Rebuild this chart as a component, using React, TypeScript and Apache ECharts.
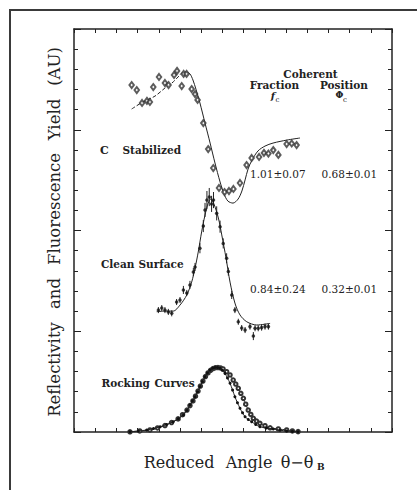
import React, { useEffect, useRef } from "react";
import * as echarts from "echarts";

// Axis extent in tick units (ticks are unlabelled in the original)
const X_MAX = 15;
const Y_MAX = 20;

// C Stabilized: fitted curve (left rising part drawn dashed) and data (open diamonds)
const stabilizedFitLeft: [number, number][] = [
  [2.72, 16.03], [3.25, 16.38], [3.82, 16.67], [4.29, 17.07], [4.62, 17.32],
  [4.91, 17.62], [5.09, 17.82], [5.28, 17.89],
];
const stabilizedFitRight: [number, number][] = [
  [5.28, 17.89], [5.47, 17.77], [5.61, 17.47], [5.75, 17.02], [5.94, 16.33],
  [6.18, 15.33], [6.42, 14.34], [6.65, 13.35], [6.89, 12.41], [7.08, 11.81],
  [7.26, 11.46], [7.5, 11.36], [7.74, 11.56], [7.92, 11.96], [8.07, 12.51],
  [8.21, 13.05], [8.4, 13.5], [8.68, 13.95], [9.01, 14.19], [9.39, 14.34],
  [10.05, 14.49], [10.66, 14.59],
];
const stabilizedData: [number, number][] = [
  [2.72, 17.22], [2.96, 16.97], [3.21, 16.33], [3.44, 16.43], [3.58, 16.38],
  [3.74, 17.12], [4.01, 17.62], [4.29, 17.32], [4.46, 17.22], [4.72, 17.72],
  [4.86, 17.92], [5.08, 17.17], [5.17, 17.77], [5.31, 17.77], [5.55, 17.02],
  [5.71, 16.77], [5.83, 16.48], [6.1, 15.33], [6.33, 14.04], [6.57, 13.1],
  [6.84, 12.11], [7.1, 11.91], [7.31, 11.96], [7.52, 12.06], [7.83, 12.36],
  [8.14, 13.25], [8.38, 13.6], [8.73, 13.65], [8.96, 13.85], [9.17, 13.82],
  [9.4, 13.99], [9.64, 13.75], [10.03, 14.29], [10.27, 14.32], [10.5, 14.24],
];

// Clean Surface: fitted curve and data with error bars [x, y, err]
const cleanFit: [number, number][] = [
  [3.9, 5.97], [4.29, 6.0], [4.68, 6.0], [5.0, 6.3], [5.32, 6.8], [5.55, 7.44],
  [5.71, 8.14], [5.86, 8.93], [6.02, 9.93], [6.18, 10.77], [6.33, 11.36],
  [6.45, 11.56], [6.6, 11.32], [6.81, 10.62], [6.97, 9.78], [7.17, 8.64],
  [7.36, 7.44], [7.59, 6.4], [7.83, 5.81], [8.15, 5.47], [8.62, 5.31], [9.25, 5.39],
];
const cleanData: [number, number, number][] = [
  [3.98, 6.05, 0.15], [4.14, 6.15, 0.15], [4.29, 6.05, 0.15], [4.45, 5.96, 0.15],
  [4.61, 5.89, 0.15], [4.84, 6.45, 0.15], [5.0, 6.55, 0.15], [5.16, 7.05, 0.2],
  [5.32, 6.9, 0.15], [5.47, 7.3, 0.2], [5.63, 7.94, 0.2], [5.71, 8.19, 0.2],
  [5.94, 9.12, 0.25], [6.1, 10.22, 0.3], [6.18, 11.02, 0.35], [6.27, 11.51, 0.45],
  [6.38, 11.66, 0.45], [6.49, 11.32, 0.4], [6.58, 11.51, 0.4], [6.73, 10.85, 0.35],
  [6.89, 10.19, 0.3], [7.04, 9.36, 0.25], [7.2, 8.62, 0.25], [7.28, 7.96, 0.2],
  [7.44, 6.8, 0.2], [7.59, 6.05, 0.15], [7.75, 5.47, 0.15], [7.91, 5.16, 0.15],
  [8.07, 5.06, 0.15], [8.3, 5.23, 0.15], [8.46, 4.76, 0.2], [8.54, 5.15, 0.15],
  [8.69, 5.15, 0.15], [8.85, 5.18, 0.15], [9.01, 5.23, 0.15], [9.17, 5.23, 0.15],
];

// Rocking curves: filled dots (narrower) and open circles (wider on the right)
const rockingFilled: [number, number][] = [
  [2.64, 0.01], [3.04, 0.05], [3.43, 0.1], [3.75, 0.17], [4.06, 0.26], [4.37, 0.37],
  [4.68, 0.51], [4.92, 0.66], [5.16, 0.84], [5.32, 1.07], [5.47, 1.34], [5.59, 1.54],
  [5.71, 1.75], [5.83, 2.0], [5.94, 2.25], [6.06, 2.5], [6.18, 2.74], [6.3, 2.93],
  [6.42, 3.08], [6.54, 3.16], [6.65, 3.2], [6.77, 3.2], [6.89, 3.16], [7.0, 3.06],
  [7.12, 2.91], [7.24, 2.68], [7.36, 2.42], [7.48, 2.08], [7.59, 1.75], [7.71, 1.45],
  [7.83, 1.18], [7.95, 0.95], [8.07, 0.76], [8.22, 0.62], [8.38, 0.51], [8.57, 0.37],
  [8.77, 0.26], [9.08, 0.2], [9.4, 0.15], [9.72, 0.09], [10.03, 0.05], [10.3, 0.03],
  [10.57, 0.01],
];
const rockingOpen: [number, number][] = [
  [2.64, 0.01], [3.1, 0.05], [3.58, 0.1], [3.94, 0.2], [4.29, 0.32], [4.6, 0.47],
  [4.91, 0.65], [5.12, 0.86], [5.33, 1.09], [5.47, 1.31], [5.61, 1.54], [5.73, 1.78],
  [5.85, 2.03], [5.96, 2.28], [6.08, 2.53], [6.2, 2.75], [6.32, 2.93], [6.44, 3.06],
  [6.56, 3.15], [6.68, 3.19], [6.79, 3.2], [6.91, 3.18], [7.03, 3.13], [7.2, 2.99],
  [7.36, 2.83], [7.51, 2.58], [7.63, 2.38], [7.75, 2.17], [7.87, 1.92], [7.99, 1.67],
  [8.1, 1.38], [8.22, 1.09], [8.34, 0.87], [8.46, 0.68], [8.61, 0.54], [8.77, 0.43],
  [9.01, 0.31], [9.25, 0.21], [9.64, 0.15], [10.03, 0.1], [10.3, 0.05], [10.57, 0.02],
];

// Text
const yTitleWords = ["Reflectivity", "and", "Fluorescence", "Yield", "(AU)"];
const xTitleWords = ["Reduced", "Angle", "\u03b8\u2212\u03b8"];
const xTitleSub = "B";
const curveLabels = ["C", "Stabilized", "Clean", "Surface", "Rocking", "Curves"];
const headerLabels = ["Coherent", "Fraction", "Position"];
const headerSymbols = ["f", "\u03a6"];
const fractionValues = ["1.01\u00b10.07", "0.84\u00b10.24"];
const positionValues = ["0.68\u00b10.01", "0.32\u00b10.01"];

const INK = "#222";
const SERIF = '"DejaVu Serif", serif';

function txt(text: string, x: number, y: number, size: number, opts: any = {}) {
  return {
    type: "text",
    x,
    y,
    rotation: opts.rotation || 0,
    z: 10,
    style: {
      text,
      fill: INK,
      fontSize: size,
      fontFamily: SERIF,
      fontWeight: opts.bold ? "bold" : "normal",
      fontStyle: opts.italic ? "italic" : "normal",
      align: opts.align || "left",
      textAlign: opts.align || "left",
      verticalAlign: "middle",
      textVerticalAlign: "middle",
    },
  };
}

export default function App() {
  const ref = useRef<HTMLDivElement>(null);

  useEffect(() => {
    if (!ref.current) return;
    const chart = echarts.init(ref.current, undefined, { renderer: "svg" });

    const axisLine = { show: true, onZero: false, lineStyle: { color: INK, width: 1.5 } };
    const xAxisBase = {
      type: "value",
      min: 0,
      max: X_MAX,
      interval: 1,
      axisLine,
      axisTick: { show: true, inside: true, length: 4, lineStyle: { color: INK, width: 1 } },
      axisLabel: { show: false },
      splitLine: { show: false },
    };
    const yAxisBase = {
      type: "value",
      min: 0,
      max: Y_MAX,
      interval: 5,
      axisLine,
      axisTick: { show: true, inside: true, length: 7, lineStyle: { color: INK, width: 1 } },
      minorTick: { show: true, splitNumber: 5, length: 4, lineStyle: { color: INK, width: 1 } },
      axisLabel: { show: false },
      splitLine: { show: false },
      minorSplitLine: { show: false },
    };

    const graphics: any[] = [
      {
        type: "rect",
        shape: { x: 10, y: 10, width: 460, height: 530 },
        style: { fill: "none", stroke: "#3a3a3a", lineWidth: 2 },
        z: 1,
      },
    ];
    // y title words (rotated, bottom to top)
    const yCenters = [369.5, 293.5, 209, 119.5, 66.5];
    yTitleWords.forEach((w, i) =>
      graphics.push(txt(w, 54, yCenters[i], 16.5, { align: "center", rotation: Math.PI / 2 }))
    );
    // x title
    const xCenters = [179, 249, 297];
    xTitleWords.forEach((w, i) => graphics.push(txt(w, xCenters[i], 462, 16, { align: "center" })));
    graphics.push(txt(xTitleSub, 317, 467, 9, { bold: true }));
    // curve labels
    graphics.push(txt(curveLabels[0], 100, 150, 11, { bold: true }));
    graphics.push(txt(curveLabels[1], 122.5, 150, 10.5, { bold: true }));
    graphics.push(txt(curveLabels[2], 101, 264, 10.5, { bold: true }));
    graphics.push(txt(curveLabels[3], 138.5, 264, 10.5, { bold: true }));
    graphics.push(txt(curveLabels[4], 101.5, 383, 10.5, { bold: true }));
    graphics.push(txt(curveLabels[5], 154.5, 383, 10.5, { bold: true }));
    // header
    graphics.push(txt(headerLabels[0], 310.5, 74, 10.5, { bold: true, align: "center" }));
    graphics.push(txt(headerLabels[1], 274.5, 85, 10.5, { bold: true, align: "center" }));
    graphics.push(txt(headerLabels[2], 344, 85, 10.5, { bold: true, align: "center" }));
    graphics.push(txt(headerSymbols[0], 273, 95, 10, { bold: true, italic: true, align: "center" }));
    graphics.push(txt("c", 277.5, 99.5, 7, { align: "center" }));
    graphics.push(txt(headerSymbols[1], 339.5, 95, 9, { bold: true, align: "center" }));
    graphics.push(txt("c", 345, 99.5, 7, { align: "center" }));
    // values
    graphics.push(txt(fractionValues[0], 250, 174, 10.5));
    graphics.push(txt(positionValues[0], 321.5, 174, 10.5));
    graphics.push(txt(fractionValues[1], 250, 288.5, 10.5));
    graphics.push(txt(positionValues[1], 321.5, 288.5, 10.5));

    const lineSeries = (data: [number, number][], dashed = false) => ({
      type: "line",
      data,
      smooth: 0.3,
      showSymbol: false,
      symbol: "none",
      lineStyle: { color: INK, width: 1, type: dashed ? [4, 2] : "solid" },
      z: 3,
      silent: true,
    });

    chart.setOption({
      animation: false,
      backgroundColor: "#fff",
      grid: { left: 74, right: 25, top: 29, bottom: 58 },
      xAxis: [
        { ...xAxisBase, position: "bottom" },
        { ...xAxisBase, position: "top" },
      ],
      yAxis: [
        { ...yAxisBase, position: "left" },
        { ...yAxisBase, position: "right" },
      ],
      graphic: graphics,
      series: [
        lineSeries(stabilizedFitLeft, true),
        lineSeries(stabilizedFitRight),
        {
          type: "scatter",
          data: stabilizedData,
          symbol: "emptyDiamond",
          symbolSize: [4.5, 6],
          itemStyle: { color: "#333", borderColor: "#333", borderWidth: 0.9 },
          z: 4,
        },
        lineSeries(cleanFit),
        {
          type: "custom",
          data: cleanData,
          renderItem: (params: any, api: any) => {
            const x = api.value(0);
            const y = api.value(1);
            const e = api.value(2);
            const p1 = api.coord([x, y - e]);
            const p2 = api.coord([x, y + e]);
            return {
              type: "line",
              shape: { x1: p1[0], y1: p1[1], x2: p2[0], y2: p2[1] },
              style: { stroke: INK, lineWidth: 1 },
            };
          },
          z: 4,
        },
        {
          type: "scatter",
          data: cleanData.map((d) => [d[0], d[1]]),
          symbol: "circle",
          symbolSize: 3.5,
          itemStyle: { color: "#111" },
          z: 5,
        },
        {
          type: "line",
          data: rockingOpen,
          smooth: 0.3,
          symbol: "emptyCircle",
          symbolSize: 3.5,
          showSymbol: true,
          lineStyle: { color: INK, width: 1 },
          itemStyle: { color: "#333", borderColor: "#333", borderWidth: 0.9 },
          z: 4,
        },
        {
          type: "line",
          data: rockingFilled,
          smooth: 0.3,
          symbol: "circle",
          symbolSize: 3,
          showSymbol: true,
          lineStyle: { color: INK, width: 1 },
          itemStyle: { color: "#111" },
          z: 5,
        },
      ],
    });

    return () => chart.dispose();
  }, []);

  return (
    <div
      ref={ref}
      style={{ position: "fixed", left: 0, top: 0, width: 417, height: 490, background: "#fff" }}
    />
  );
}
